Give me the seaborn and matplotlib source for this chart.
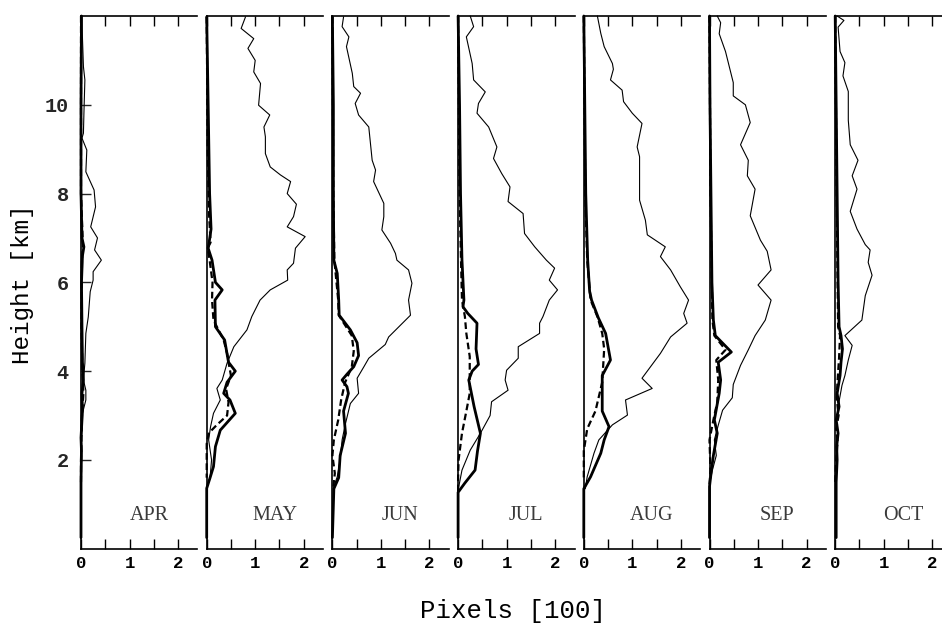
import matplotlib
matplotlib.use("Agg")
import matplotlib.pyplot as plt
import seaborn as sns

# ---------------------------------------------------------------
# Monthly vertical profiles: pixel counts (x, in hundreds) vs height (km)
# Each profile is listed from the top of the column downwards.
# ---------------------------------------------------------------
MONTHS = ["APR", "MAY", "JUN", "JUL", "AUG", "SEP", "OCT"]

# ---- April ----
APR_THIN_H = [12.0, 11.5, 10.86, 10.56, 9.8, 9.36, 9.25, 8.98, 8.49, 8.08, 7.7, 7.25, 7.0,
              6.73, 6.5, 6.24, 6.05, 5.79, 5.22, 4.85, 4.18, 3.8, 3.57, 3.35, 3.05, 2.45, 2.0]
APR_THIN_X = [0.01, 0.03, 0.05, 0.08, 0.06, 0.05, 0.02, 0.12, 0.10, 0.27, 0.30, 0.20, 0.34,
              0.28, 0.42, 0.25, 0.25, 0.19, 0.15, 0.10, 0.08, 0.05, 0.10, 0.10, 0.03, 0.01, 0.0]
APR_THICK_H = [12.0, 10.0, 8.0, 7.0, 6.8, 6.6, 6.0, 5.0, 4.2, 3.8, 3.5, 3.1, 2.5, 2.2, 1.5, 0.25]
APR_THICK_X = [0.01, 0.0, 0.0, 0.02, 0.06, 0.03, 0.01, 0.02, 0.03, 0.05, 0.02, 0.03, 0.0, 0.01, 0.0, 0.0]
APR_DASH_H = [12.0, 8.0, 6.8, 6.5, 5.0, 4.0, 3.5, 3.0, 2.0, 1.5]
APR_DASH_X = [0.0, 0.0, 0.04, 0.02, 0.01, 0.03, 0.05, 0.02, 0.0, 0.0]

# ---- May ----
MAY_THIN_H = [11.98, 11.72, 11.49, 11.27, 11.0, 10.74, 10.48, 9.99, 9.77, 9.50, 9.28, 8.90,
              8.60, 8.42, 8.27, 8.0, 7.76, 7.48, 7.25, 7.03, 6.77, 6.43, 6.28, 6.05, 5.83,
              5.6, 5.23, 4.93, 4.55, 4.18, 3.8, 3.61, 3.35, 3.05, 2.75, 2.45, 2.0, 1.6, 1.36]
MAY_THIN_X = [0.80, 0.71, 0.97, 0.85, 1.00, 0.97, 1.11, 1.07, 1.30, 1.18, 1.21, 1.21,
              1.31, 1.52, 1.73, 1.66, 1.85, 1.79, 1.66, 2.03, 1.83, 1.79, 1.66, 1.67, 1.31,
              1.10, 0.93, 0.83, 0.56, 0.42, 0.32, 0.21, 0.28, 0.14, 0.08, 0.04, 0.10, 0.07, 0.0]
MAY_THICK_H = [11.98, 10.0, 8.0, 7.2, 6.9, 6.77, 6.5, 6.0, 5.83, 5.6, 5.0, 4.7, 4.2, 4.0,
               3.75, 3.5, 3.35, 3.05, 2.67, 2.3, 1.85, 1.6, 1.36, 0.25]
MAY_THICK_X = [0.0, 0.03, 0.06, 0.09, 0.05, 0.03, 0.11, 0.18, 0.32, 0.17, 0.18, 0.37, 0.45,
               0.59, 0.42, 0.35, 0.48, 0.59, 0.28, 0.18, 0.14, 0.07, 0.0, 0.0]
MAY_DASH_H = [11.98, 9.0, 7.5, 6.9, 6.77, 6.5, 6.0, 5.6, 5.15, 4.7, 4.4, 4.2, 3.9, 3.6,
              3.3, 3.0, 2.79, 2.6, 2.36, 1.6]
MAY_DASH_X = [0.0, 0.02, 0.05, 0.08, 0.02, 0.06, 0.12, 0.11, 0.14, 0.35, 0.42, 0.45, 0.50,
              0.40, 0.45, 0.42, 0.21, 0.04, 0.0, 0.0]

# ---- June ----
JUN_THIN_H = [11.98, 11.76, 11.53, 11.31, 10.71, 10.41, 10.26, 10.03, 9.77, 9.50, 8.75, 8.53,
              8.27, 7.78, 7.48, 7.18, 6.88, 6.65, 6.50, 6.28, 5.98, 5.60, 5.26, 4.77, 4.6,
              4.29, 4.1, 3.84, 3.5, 3.27, 2.82, 2.45, 2.0, 1.62, 1.4]
JUN_THIN_X = [0.23, 0.20, 0.34, 0.29, 0.41, 0.44, 0.58, 0.47, 0.54, 0.75, 0.82, 0.89,
              0.85, 1.06, 1.06, 1.02, 1.20, 1.30, 1.33, 1.57, 1.64, 1.57, 1.61, 1.16, 1.09,
              0.75, 0.65, 0.51, 0.54, 0.37, 0.27, 0.20, 0.16, 0.10, 0.03]
JUN_THICK_H = [11.98, 10.0, 8.0, 6.5, 6.2, 5.6, 5.26, 4.93, 4.64, 4.35, 4.1, 3.93, 3.8,
               3.65, 3.5, 3.1, 2.6, 2.1, 1.6, 1.35, 0.25]
JUN_THICK_X = [0.0, 0.02, 0.02, 0.03, 0.10, 0.13, 0.14, 0.37, 0.51, 0.54, 0.44, 0.30, 0.20,
               0.30, 0.33, 0.23, 0.27, 0.16, 0.13, 0.03, 0.0]
JUN_DASH_H = [11.98, 8.0, 6.5, 5.6, 5.26, 4.8, 4.45, 4.1, 3.74, 3.35, 2.9, 2.45, 2.1, 1.7, 1.4]
JUN_DASH_X = [0.0, 0.02, 0.04, 0.12, 0.13, 0.40, 0.44, 0.40, 0.26, 0.18, 0.12, 0.03, 0.0, 0.05, 0.02]

# ---- July ----
JUL_THIN_H = [12.0, 11.76, 11.53, 10.93, 10.56, 10.29, 10.03, 9.81, 9.50, 9.05, 8.79, 8.45,
              8.15, 7.82, 7.55, 7.10, 6.80, 6.50, 6.32, 6.05, 5.83, 5.6, 5.23, 5.08, 4.85,
              4.55, 4.29, 4.02, 3.8, 3.57, 3.31, 3.0, 2.6, 2.22, 1.77, 1.32]
JUL_THIN_X = [0.25, 0.32, 0.17, 0.29, 0.32, 0.56, 0.42, 0.39, 0.63, 0.80, 0.73, 0.90,
              1.07, 1.03, 1.34, 1.37, 1.58, 1.82, 1.99, 1.88, 2.05, 1.88, 1.75, 1.68, 1.68,
              1.24, 1.24, 1.00, 0.97, 1.03, 0.69, 0.66, 0.46, 0.25, 0.08, 0.0]
JUL_THICK_H = [12.0, 10.0, 8.0, 6.5, 5.6, 5.45, 5.3, 5.08, 4.5, 4.15, 4.0, 3.8, 3.2, 2.6,
               2.2, 1.77, 1.48, 1.27, 0.25]
JUL_THICK_X = [0.0, 0.03, 0.05, 0.08, 0.12, 0.10, 0.20, 0.39, 0.37, 0.42, 0.29, 0.22, 0.33,
               0.46, 0.40, 0.35, 0.14, 0.0, 0.0]
JUL_DASH_H = [12.0, 8.0, 6.5, 5.6, 5.23, 4.85, 4.33, 3.5, 3.1, 2.6, 2.0, 1.6, 1.3]
JUL_DASH_X = [0.0, 0.03, 0.06, 0.08, 0.14, 0.17, 0.24, 0.24, 0.17, 0.08, 0.01, 0.0, 0.0]

# ---- August ----
AUG_THIN_H = [12.0, 11.61, 11.31, 10.93, 10.8, 10.56, 10.33, 10.07, 9.81, 9.58, 9.05, 8.83,
              7.85, 7.40, 7.07, 6.80, 6.58, 6.28, 5.90, 5.60, 5.30, 5.08, 4.77, 4.40, 3.84,
              3.61, 3.35, 3.01, 2.79, 2.45, 2.15, 1.62, 1.35]
AUG_THIN_X = [0.28, 0.35, 0.42, 0.59, 0.61, 0.55, 0.79, 0.82, 1.00, 1.20, 1.10, 1.15,
              1.15, 1.27, 1.31, 1.68, 1.58, 1.79, 1.99, 2.16, 2.06, 2.13, 1.79, 1.58, 1.20,
              1.41, 0.86, 0.90, 0.59, 0.31, 0.21, 0.07, 0.03]
AUG_THICK_H = [12.0, 10.0, 8.0, 6.5, 5.8, 5.6, 5.2, 4.85, 4.25, 3.9, 3.1, 2.75, 2.45, 2.15,
               1.62, 1.35, 0.25]
AUG_THICK_X = [0.0, 0.02, 0.04, 0.08, 0.12, 0.16, 0.30, 0.45, 0.55, 0.38, 0.38, 0.52, 0.42,
               0.35, 0.14, 0.0, 0.0]
AUG_DASH_H = [12.0, 8.0, 6.5, 5.6, 5.23, 4.85, 4.5, 3.75, 3.1, 2.7, 2.2, 1.55]
AUG_DASH_X = [0.0, 0.03, 0.07, 0.14, 0.28, 0.38, 0.42, 0.38, 0.24, 0.07, 0.0, 0.0]

# ---- September ----
SEP_THIN_H = [12.0, 11.85, 11.6, 11.2, 10.5, 10.2, 10.0, 9.6, 9.1, 8.75, 8.4, 8.1, 7.5,
              6.95, 6.7, 6.28, 5.94, 5.6, 5.15, 4.8, 4.48, 4.13, 3.7, 3.4, 3.12, 2.78, 2.45,
              2.1, 1.77, 1.45]
SEP_THIN_X = [0.16, 0.23, 0.20, 0.33, 0.49, 0.49, 0.74, 0.84, 0.64, 0.80, 0.78, 0.94, 0.84,
              1.05, 1.19, 1.27, 1.00, 1.27, 1.15, 0.94, 0.80, 0.64, 0.49, 0.47, 0.27, 0.18,
              0.10, 0.14, 0.06, 0.0]
SEP_THICK_H = [12.0, 10.0, 8.0, 6.0, 5.15, 4.8, 4.43, 4.2, 3.8, 3.5, 2.9, 2.6, 2.1, 1.77, 1.4, 0.25]
SEP_THICK_X = [0.0, 0.01, 0.03, 0.05, 0.08, 0.12, 0.45, 0.18, 0.23, 0.20, 0.10, 0.16, 0.08,
               0.04, 0.0, 0.0]
SEP_DASH_H = [12.0, 8.0, 5.15, 4.8, 4.48, 4.25, 3.8, 3.3, 2.9, 2.45, 1.77, 1.45]
SEP_DASH_X = [0.0, 0.02, 0.06, 0.10, 0.33, 0.14, 0.18, 0.16, 0.08, 0.0, 0.02, 0.0]

# ---- October ----
OCT_THIN_H = [12.0, 11.9, 11.75, 11.2, 10.95, 10.65, 10.3, 9.65, 9.1, 8.75, 8.4, 8.1, 7.6,
              7.2, 6.85, 6.73, 6.45, 6.16, 5.7, 5.15, 4.8, 4.58, 4.25, 3.9, 3.68, 3.2]
OCT_THIN_X = [0.04, 0.18, 0.06, 0.10, 0.20, 0.16, 0.27, 0.27, 0.31, 0.47, 0.35, 0.45, 0.31,
              0.45, 0.62, 0.72, 0.68, 0.76, 0.62, 0.55, 0.20, 0.35, 0.27, 0.20, 0.14, 0.06]
OCT_THICK_H = [12.0, 10.0, 8.0, 6.0, 5.0, 4.8, 4.5, 4.2, 3.9, 3.5, 3.2, 2.9, 2.6, 2.3, 2.0, 1.5, 0.25]
OCT_THICK_X = [0.0, 0.02, 0.04, 0.06, 0.08, 0.12, 0.15, 0.12, 0.10, 0.04, 0.08, 0.02, 0.06,
               0.03, 0.04, 0.02, 0.02]
OCT_DASH_H = [12.0, 8.0, 5.0, 4.8, 4.3, 3.8, 3.4, 3.0, 2.7, 2.4, 2.0, 1.5]
OCT_DASH_X = [0.0, 0.03, 0.06, 0.10, 0.08, 0.05, 0.03, 0.07, 0.02, 0.05, 0.02, 0.0]

PROFILES = {
    "APR": ((APR_THIN_X, APR_THIN_H), (APR_THICK_X, APR_THICK_H), (APR_DASH_X, APR_DASH_H)),
    "MAY": ((MAY_THIN_X, MAY_THIN_H), (MAY_THICK_X, MAY_THICK_H), (MAY_DASH_X, MAY_DASH_H)),
    "JUN": ((JUN_THIN_X, JUN_THIN_H), (JUN_THICK_X, JUN_THICK_H), (JUN_DASH_X, JUN_DASH_H)),
    "JUL": ((JUL_THIN_X, JUL_THIN_H), (JUL_THICK_X, JUL_THICK_H), (JUL_DASH_X, JUL_DASH_H)),
    "AUG": ((AUG_THIN_X, AUG_THIN_H), (AUG_THICK_X, AUG_THICK_H), (AUG_DASH_X, AUG_DASH_H)),
    "SEP": ((SEP_THIN_X, SEP_THIN_H), (SEP_THICK_X, SEP_THICK_H), (SEP_DASH_X, SEP_DASH_H)),
    "OCT": ((OCT_THIN_X, OCT_THIN_H), (OCT_THICK_X, OCT_THICK_H), (OCT_DASH_X, OCT_DASH_H)),
}

X_TICKS = [0, 1, 2]
X_MINOR = [0.5, 1.5]
Y_TICKS = [2, 4, 6, 8, 10]

sns.set_theme(style="ticks")
plt.rcParams["font.family"] = ["Liberation Mono", "DejaVu Sans"]

W, H = 942, 626
fig = plt.figure(figsize=(W / 100, H / 100), dpi=100)
fig.patch.set_facecolor("white")

PANEL_LEFT = 81.0      # px of first panel's x=0
PANEL_PITCH = 125.7    # px between panels
PANEL_W = 116.4        # px
AX_BOTTOM = 548.7      # px (from top) of height 0
AX_TOP = 16.0          # px (from top) of height 12

axes = []
for i, month in enumerate(MONTHS):
    rect = [(PANEL_LEFT + i * PANEL_PITCH) / W, (H - AX_BOTTOM) / H,
            PANEL_W / W, (AX_BOTTOM - AX_TOP) / H]
    ax = fig.add_axes(rect, sharey=axes[0] if axes else None)
    ax.set_facecolor("none")
    axes.append(ax)

    (tx, th), (kx, kh), (dx, dh) = PROFILES[month]
    sns.lineplot(x=tx, y=th, sort=False, estimator=None, ax=ax, color="black",
                 linewidth=0.8, legend=False, clip_on=False)
    sns.lineplot(x=dx, y=dh, sort=False, estimator=None, ax=ax, color="black",
                 linewidth=1.6, linestyle=(0, (3.0, 1.6)), legend=False, clip_on=False)
    sns.lineplot(x=kx, y=kh, sort=False, estimator=None, ax=ax, color="black",
                 linewidth=2.0, legend=False, clip_on=False)

    ax.set_xlim(0, 2.4)
    ax.set_ylim(0, 12)
    ax.set_xticks(X_TICKS)
    ax.set_xticks(X_MINOR, minor=True)
    ax.set_xticklabels([str(t) for t in X_TICKS], family="Liberation Mono",
                       fontweight="bold", fontsize=12.5)
    ax.tick_params(axis="x", which="both", direction="in", top=True, bottom=True,
                   length=7, width=1.0, pad=5, colors="black", labelcolor="black")
    ax.set_yticks(Y_TICKS)
    if i == 0:
        ax.set_yticklabels([str(t) for t in Y_TICKS], family="Liberation Mono",
                           fontweight="bold", fontsize=14.5)
        ax.tick_params(axis="y", direction="in", left=True, right=False,
                       length=7, width=1.0, pad=9)
    else:
        ax.tick_params(axis="y", left=False, right=False, labelleft=False)
    ax.set_xlabel("")
    ax.set_ylabel("")
    for side in ("left", "bottom", "top"):
        ax.spines[side].set_linewidth(1.2)
        ax.spines[side].set_color("black")
    ax.spines["right"].set_visible(False)

    ax.text(1.4, 0.75, month, ha="center", va="center", family="Liberation Serif",
            fontsize=14.5, color="#3a3a3a")

fig.text(23 / W, 1 - 284 / H, "Height [km]", rotation=90, ha="center", va="center",
         family="Liberation Mono", fontsize=17.5, color="black")
fig.text(513 / W, 1 - 611 / H, "Pixels [100]", ha="center", va="center",
         family="Liberation Mono", fontsize=18.5, color="black")

fig.savefig("out.png", dpi=100, facecolor="white")
